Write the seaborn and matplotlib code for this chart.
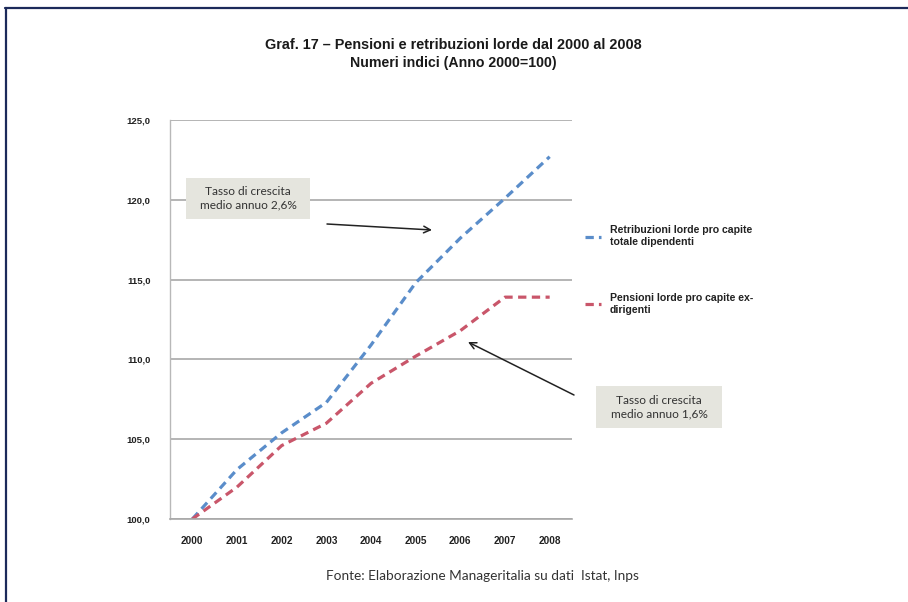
import matplotlib
matplotlib.use("Agg")
import matplotlib.pyplot as plt
import matplotlib.patches as mpatches
from matplotlib.lines import Line2D
import seaborn as sns
import pandas as pd
import numpy as np

years = ["2000", "2001", "2002", "2003", "2004", "2005", "2006", "2007", "2008"]
retribuzioni = [100.0, 103.1, 105.4, 107.3, 110.9, 114.8, 117.6, 120.1, 122.7]
pensioni = [100.0, 102.0, 104.6, 106.0, 108.5, 110.2, 111.8, 113.9, 113.9]
label_retr = "Retribuzioni lorde pro capite\ntotale dipendenti"
label_pens = "Pensioni lorde pro capite ex-\ndirigenti"
yticks = [100, 105, 110, 115, 120, 125]
ytick_labels = ["100,0", "105,0", "110,0", "115,0", "120,0", "125,0"]
title1 = "Graf. 17 \u2013 Pensioni e retribuzioni lorde dal 2000 al 2008"
title2 = "Numeri indici (Anno 2000=100)"
note1 = "Tasso di crescita\nmedio annuo 2,6%"
note2 = "Tasso di crescita\nmedio annuo 1,6%"
source = "Fonte: Elaborazione Manageritalia su dati  Istat, Inps"

sns.set_theme(style="white")
plt.rcParams["font.family"] = ["Liberation Sans", "DejaVu Sans"]

df = pd.DataFrame({
    "Anno": years * 2,
    "Indice": retribuzioni + pensioni,
    "Serie": [label_retr] * len(years) + [label_pens] * len(years),
})

W, H = 908, 602
fig = plt.figure(figsize=(W / 100, H / 100), dpi=100)
fig.patch.set_facecolor("white")
ax = fig.add_axes([170 / W, 1 - 519 / H, (572 - 170) / W, (519 - 120) / H])

blue = "#5a8dca"
red = "#c9566a"
sns.lineplot(data=df, x="Anno", y="Indice", hue="Serie", style="Serie",
             palette={label_retr: blue, label_pens: red},
             dashes={label_retr: (2.6, 1.7), label_pens: (2.6, 1.7)},
             linewidth=2.3, ax=ax, legend=False, sort=False)

ax.set_xlim(-0.5, 8.5)
ax.set_ylim(100, 125)
ax.set_xlabel("")
ax.set_ylabel("")
ax.set_yticks(yticks)
ax.set_yticklabels(ytick_labels, fontsize=6.8, fontweight="bold", color="#222222")
ax.set_xticks(range(len(years)))
ax.set_xticklabels(years, fontsize=7.2, fontweight="bold", color="#222222")
ax.set_xticks(np.arange(0.5, len(years), 1.0), minor=True)
ax.tick_params(axis="x", which="major", length=0, pad=12)
ax.tick_params(axis="x", which="minor", length=4, width=1, color="#aaaaaa", direction="out")
ax.tick_params(axis="y", which="major", length=0, pad=14)
ax.grid(axis="y", color="#a8a8a8", linewidth=1.2)
ax.grid(axis="x", visible=False)
for side in ["top", "right"]:
    ax.spines[side].set_visible(False)
ax.spines["left"].set_color("#b8b8b8")
ax.spines["left"].set_linewidth(1.0)
ax.spines["bottom"].set_color("#a8a8a8")
ax.spines["bottom"].set_linewidth(1.2)
ax.set_axisbelow(True)

# legend
handles = [Line2D([0], [0], color=blue, lw=2.3, dashes=(2.6, 1.6)),
           Line2D([0], [0], color=red, lw=2.3, dashes=(2.6, 1.6))]
leg = fig.legend(handles, [label_retr, label_pens], loc="upper left",
                 bbox_to_anchor=(575 / W, 1 - 216 / H), frameon=False,
                 prop={"size": 7.6, "weight": "bold"}, handlelength=1.6,
                 handletextpad=0.8, labelspacing=4.35)
for t in leg.get_texts():
    t.set_color("#222222")

# title
fig.text(453 / W, 1 - 45 / H, title1, ha="center", va="center",
         fontsize=10.4, fontweight="bold", color="#1a1a1a")
fig.text(453 / W, 1 - 63 / H, title2, ha="center", va="center",
         fontsize=10.2, fontweight="bold", color="#1a1a1a")

# note boxes
box_col = "#e5e5de"
for (x0, y0, x1, y1, txt) in [(186, 178, 310, 219, note1), (596, 386, 722, 428, note2)]:
    fig.patches.append(mpatches.Rectangle((x0 / W, 1 - y1 / H), (x1 - x0) / W, (y1 - y0) / H,
                                          transform=fig.transFigure, facecolor=box_col,
                                          edgecolor="none", zorder=1))
    fig.text((x0 + x1) / 2 / W, 1 - (y0 + y1) / 2 / H, txt, ha="center", va="center",
             fontsize=8.6, family=["Lato", "DejaVu Sans"], color="#333333",
             linespacing=1.25, zorder=2)

# arrows (figure pixel coords)
def fp(px, py):
    return (px / W, 1 - py / H)

ax.annotate("", xy=fp(432, 230), xycoords="figure fraction",
            xytext=fp(327, 224), textcoords="figure fraction",
            arrowprops=dict(arrowstyle="->", color="#222222", lw=1.1,
                            shrinkA=0, shrinkB=0), annotation_clip=False)
ax.annotate("", xy=fp(468, 342), xycoords="figure fraction",
            xytext=fp(574, 395), textcoords="figure fraction",
            arrowprops=dict(arrowstyle="->", color="#222222", lw=1.1,
                            shrinkA=0, shrinkB=0), annotation_clip=False)

# source
fig.text(482 / W, 1 - 576 / H, source, ha="center", va="center",
         fontsize=9.8, family=["Lato", "DejaVu Sans"], color="#333333")

# frame lines
navy = "#1c2a5a"
fig.add_artist(Line2D([5 / W, 1.0], [1 - 8 / H, 1 - 8 / H], transform=fig.transFigure,
                      color=navy, lw=1.6))
fig.add_artist(Line2D([6 / W, 6 / W], [0.0, 1 - 8 / H], transform=fig.transFigure,
                      color=navy, lw=1.6))

fig.savefig("out.png", dpi=100, facecolor="white")
